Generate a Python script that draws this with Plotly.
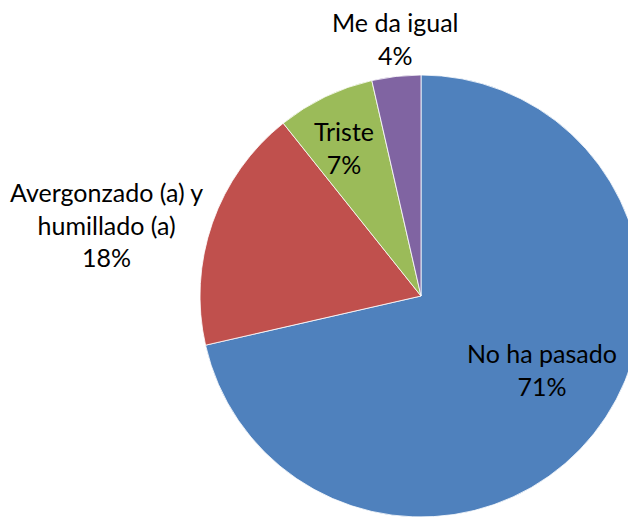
import plotly.graph_objects as go

# ---- data ----
categories = ["No ha pasado", "Avergonzado (a) y humillado (a)", "Triste", "Me da igual"]
counts = [20, 5, 2, 1]
colors = ["#4F81BD", "#C0504D", "#9BBB59", "#8064A2"]
label_lines = ["No ha pasado", "Avergonzado (a) y<br>humillado (a)", "Triste", "Me da igual"]

W, H = 636, 519
OFF = 8  # page body margin
FONT = "Lato"
FS = 25

cx, cy, r = 421 - OFF, 296 - OFF, 221
fig = go.Figure(go.Pie(
    labels=categories,
    values=counts,
    sort=False,
    direction="clockwise",
    rotation=0,
    marker=dict(colors=colors, line=dict(color="white", width=0.8)),
    textinfo="none",
    hoverinfo="label+percent",
    showlegend=False,
    domain=dict(x=[(cx - r) / W, (cx + r) / W], y=[1 - (cy + r) / H, 1 - (cy - r) / H]),
))

total = sum(counts)
# label centers in page pixels (layout only)
label_pos = [(542, 369), (106, 224), (344, 147), (395, 39)]
anns = []
for name, c, (px, py) in zip(label_lines, counts, label_pos):
    pct = round(100 * c / total)
    anns.append(dict(
        text=f"{name}<br>{pct}%",
        x=(px - OFF) / W, y=1 - (py - OFF) / H, xref="paper", yref="paper",
        xanchor="center", yanchor="middle", showarrow=False,
        font=dict(family=FONT, size=FS, color="black"),
        align="center",
    ))

fig.update_layout(
    width=W, height=H,
    margin=dict(l=0, r=0, t=0, b=0),
    paper_bgcolor="white",
    plot_bgcolor="white",
    annotations=anns,
)

fig.write_html("out.html")
